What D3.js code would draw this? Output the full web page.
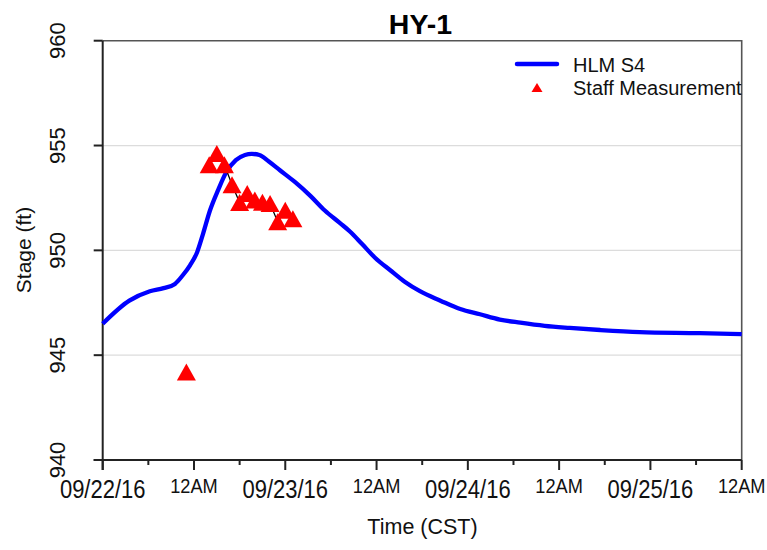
<!DOCTYPE html>
<html>
<head>
<meta charset="utf-8">
<script src="https://cdn.jsdelivr.net/npm/d3@7"></script>
<style>
  html, body { margin: 0; padding: 0; background: #fff; }
  svg { display: block; font-family: "Liberation Sans", Arial, sans-serif; }
</style>
</head>
<body>
<svg id="chart" width="767" height="550"></svg>
<script>
// HLM S4 simulated stage (hours since 09/22/16 00:00 CST, stage in ft)
const modelHours = [0, 3.5, 6.2, 8, 9.5, 10.5, 11.5, 12.4, 13.2, 14.1, 15.2, 16.2, 17.5, 18.7, 19.6, 20.6, 21.8, 23.3, 25.3, 27.3, 29.2, 31.2, 32.5, 34.1, 35.8, 37.8, 39.7, 41.7, 44.4, 47, 49.6, 52.2, 54.9, 58.1, 61.4, 65.4, 70.6, 78.5, 84];
const modelStage = [946.5, 947.6, 948.05, 948.2, 948.4, 948.8, 949.3, 949.9, 950.8, 951.9, 952.9, 953.7, 954.3, 954.55, 954.6, 954.55, 954.25, 953.82, 953.25, 952.6, 951.9, 951.3, 950.9, 950.3, 949.65, 949.05, 948.5, 948.05, 947.6, 947.2, 946.95, 946.7, 946.55, 946.4, 946.3, 946.2, 946.1, 946.05, 946.0];

// Staff gauge readings
const staffHours = [11, 14, 15, 16, 17, 18, 19, 20, 21, 22, 23, 24, 25];
const staffStage = [944.2, 954.08, 954.62, 954.08, 953.13, 952.28, 952.71, 952.4, 952.3, 952.23, 951.37, 951.91, 951.51];

// Axis ticks and labels
const xTickHours = [0, 12, 24, 36, 48, 60, 72, 84];
const xTickLabels = ["09/22/16", "12AM", "09/23/16", "12AM", "09/24/16", "12AM", "09/25/16", "12AM"];
const xMinorHours = [6, 18, 30, 42, 54, 66, 78];
const yTicks = [940, 945, 950, 955, 960];
const yGrid = [945, 950, 955];

const t0 = Date.UTC(2016, 8, 22, 0, 0);
const toDate = h => new Date(t0 + h * 3600e3);

const svg = d3.select("#chart");
const pLeft = 102.7, pRight = 741.7, pTop = 40.7, pBottom = 460;

const x = d3.scaleUtc().domain([toDate(0), toDate(84)]).range([pLeft, pRight]);
const y = d3.scaleLinear().domain([940, 960]).range([pBottom, pTop]);

// gridlines
svg.append("g").selectAll("line").data(yGrid).join("line")
  .attr("x1", pLeft).attr("x2", pRight)
  .attr("y1", d => y(d)).attr("y2", d => y(d))
  .attr("stroke", "#dcdcdc").attr("stroke-width", 1.2);

// frame (top and right)
svg.append("path")
  .attr("d", `M${pLeft},${pTop}H${pRight}V${pBottom}`)
  .attr("fill", "none").attr("stroke", "#555").attr("stroke-width", 1.6);

// x axis
const xAxis = svg.append("g").attr("transform", `translate(0,${pBottom})`);
xAxis.append("line").attr("x1", pLeft - 9).attr("x2", pRight).attr("stroke", "#222").attr("stroke-width", 2);
xAxis.selectAll(".major").data(xTickHours).join("line")
  .attr("x1", d => x(toDate(d))).attr("x2", d => x(toDate(d)))
  .attr("y1", 0).attr("y2", 10).attr("stroke", "#222").attr("stroke-width", 2);
xAxis.selectAll(".minor").data(xMinorHours).join("line")
  .attr("x1", d => x(toDate(d))).attr("x2", d => x(toDate(d)))
  .attr("y1", 0).attr("y2", 5).attr("stroke", "#222").attr("stroke-width", 2);
xAxis.selectAll("text").data(xTickHours).join("text")
  .attr("text-anchor", "middle")
  .attr("transform", (d, i) => {
    const isDate = i % 2 === 0;
    return `translate(${x(toDate(d))},${isDate ? 37.5 : 32.5}) scale(1,${isDate ? 1.14 : 1.08})`;
  })
  .attr("font-size", (d, i) => i % 2 === 0 ? 22 : 18.2)
  .attr("fill", "#111")
  .text((d, i) => xTickLabels[i]);

// y axis
const yAxis = svg.append("g");
yAxis.append("line").attr("x1", pLeft).attr("x2", pLeft).attr("y1", pTop).attr("y2", pBottom + 10)
  .attr("stroke", "#222").attr("stroke-width", 2);
yAxis.selectAll(".tick").data(yTicks).join("line")
  .attr("x1", pLeft - 9).attr("x2", pLeft)
  .attr("y1", d => y(d)).attr("y2", d => y(d))
  .attr("stroke", "#222").attr("stroke-width", 2);
yAxis.selectAll("text").data(yTicks).join("text")
  .attr("text-anchor", "middle")
  .attr("transform", d => `translate(65,${y(d)}) rotate(-90)`)
  .attr("font-size", 22).attr("fill", "#111")
  .text(d => d);

// axis titles
svg.append("text").attr("text-anchor", "middle")
  .attr("transform", "translate(30.5,250) rotate(-90)")
  .attr("font-size", 21).attr("fill", "#111").text("Stage (ft)");
svg.append("text").attr("text-anchor", "middle")
  .attr("x", 422.5).attr("y", 534)
  .attr("font-size", 21.5).attr("fill", "#111").text("Time (CST)");

// title
svg.append("text").attr("text-anchor", "middle")
  .attr("x", 420.5).attr("y", 33.5)
  .attr("font-size", 28.5).attr("font-weight", "bold").attr("fill", "#000").text("HY-1");

// model line
const line = d3.line()
  .x((d, i) => x(toDate(modelHours[i])))
  .y(d => y(d))
  .curve(d3.curveMonotoneX);
svg.append("path").datum(modelStage)
  .attr("d", line)
  .attr("fill", "none").attr("stroke", "#0000ff").attr("stroke-width", 4.3)
  .attr("stroke-linejoin", "round");

// staff measurement connector (continuous readings only)
const staffPts = staffHours.map((h, i) => [x(toDate(h)), y(staffStage[i])]);
svg.append("path").datum(staffPts.slice(1))
  .attr("d", d3.line())
  .attr("fill", "none").attr("stroke", "#000").attr("stroke-width", 1.3);

// triangle markers, centred on their bounding box
const tri = (w, h) => `M0,${-h / 2}L${w / 2},${h / 2}L${-w / 2},${h / 2}Z`;
svg.append("g").selectAll("path").data(staffPts).join("path")
  .attr("transform", d => `translate(${d[0]},${d[1]})`)
  .attr("d", tri(19, 17))
  .attr("fill", "#ff0000");

// legend
const lg = svg.append("g");
lg.append("line").attr("x1", 517).attr("x2", 557).attr("y1", 64).attr("y2", 64)
  .attr("stroke", "#0000ff").attr("stroke-width", 4.5).attr("stroke-linecap", "round");
lg.append("text").attr("x", 573).attr("y", 71.5).attr("font-size", 20).attr("fill", "#111").text("HLM S4");
lg.append("path").attr("transform", "translate(537,87.5)").attr("d", tri(11, 9)).attr("fill", "#ff0000");
lg.append("text").attr("x", 573).attr("y", 95).attr("font-size", 20).attr("fill", "#111").text("Staff Measurement");
</script>
</body>
</html>
